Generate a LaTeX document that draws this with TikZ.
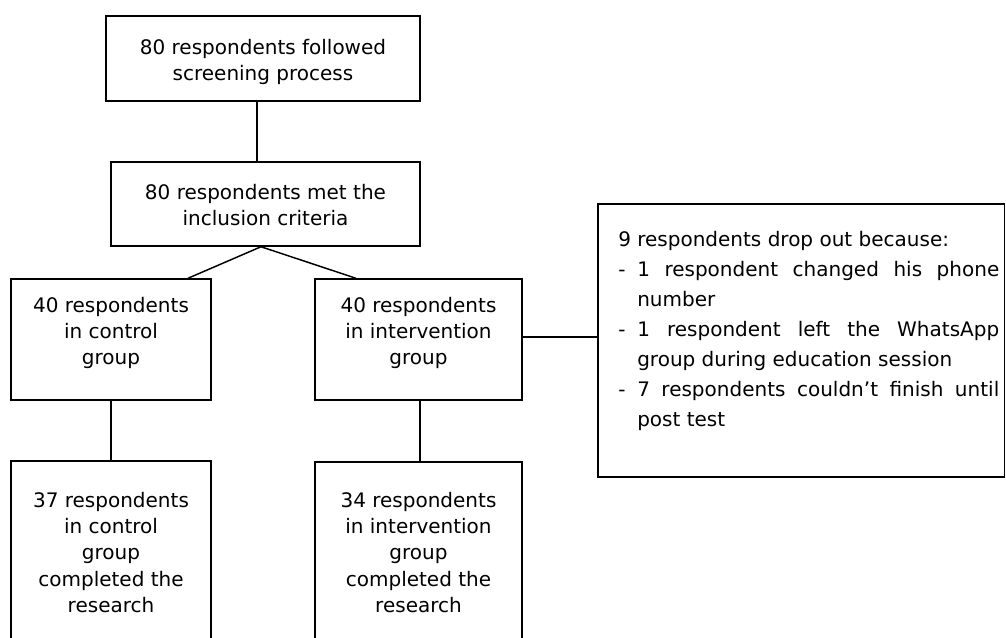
\documentclass[tikz,border=0pt]{standalone}
\usepackage{fontspec}
\setmainfont{DejaVu Sans}
\usetikzlibrary{calc}
\begin{document}
\begin{tikzpicture}[x=0.75pt,y=-0.75pt,
  box/.style={draw, line width=1.1pt, rectangle, inner sep=0pt},
  txt/.style={font=\fontsize{15}{19.7}\selectfont, align=center, inner sep=0pt, anchor=north},
  link/.style={line width=1.1pt}]
\useasboundingbox (0,0) rectangle (1006,637);
\clip (0,0) rectangle (1006,637);
% boxes
\node[box, minimum width=235.5pt, minimum height=63.75pt] (b1) at (263,58.5) {};
\node[box, minimum width=231.75pt, minimum height=63pt] (b2) at (265.5,204) {};
\node[box, minimum width=150pt, minimum height=90.75pt] (b3) at (111,339.5) {};
\node[box, minimum width=155.25pt, minimum height=90.75pt] (b4) at (418.5,339.5) {};
\node[box, minimum width=150pt, minimum height=149.25pt] (b5) at (111,560.5) {};
\node[box, minimum width=155.25pt, minimum height=148.5pt] (b6) at (418.5,561) {};
\node[box, minimum width=304.875pt, minimum height=204.75pt] (drop) at (801.25,340.5) {};
% texts
\node[txt] (t1) at (263,38.8) {80 respondents followed\\screening process};
\node[txt] (t2) at (265.5,183.8) {80 respondents met the\\inclusion criteria};
\node[txt] (t3) at (111,296.8) {40 respondents\\in control\\group};
\node[txt] (t4) at (418.5,296.8) {40 respondents\\in intervention\\group};
\node[txt] (t5) at (111,491.8) {37 respondents\\in control\\group\\completed the\\research};
\node[txt] (t6) at (418.5,491.8) {34 respondents\\in intervention\\group\\completed the\\research};
\node[inner sep=0pt, anchor=north west, text width=285.75pt, align=justify,
      font=\fontsize{15}{22.5}\selectfont] (t7) at (618,230.8) {%
\parindent=0pt
9 respondents drop out because:\par
\hangindent=14.25pt\hangafter=1\makebox[14.25pt][l]{-}1 respondent changed his phone\linebreak number\par
\hangindent=14.25pt\hangafter=1\makebox[14.25pt][l]{-}1 respondent left the WhatsApp\linebreak group during education session\par
\hangindent=14.25pt\hangafter=1\makebox[14.25pt][l]{-}7 respondents couldn’t finish until\linebreak post test\par};
% connectors
\draw[link] ($(b1.south)+(-6,0)$) -- ($(b2.north)+(-8.5,0)$);
\coordinate (apex) at ($(b2.south)+(-4.5,0)$);
\draw[link] (apex) -- ($(b3.north)+(77,0)$);
\draw[link] (apex) -- ($(b4.north)+(-62.5,0)$);
\draw[link] (b3.south) -- (b5.north);
\draw[link] ($(b4.south)+(1.5,0)$) -- ($(b6.north)+(1.5,0)$);
\coordinate (j) at ($(b4.east)+(0,-2.5)$);
\draw[link] (j) -- (j -| drop.west);
\end{tikzpicture}
\end{document}
